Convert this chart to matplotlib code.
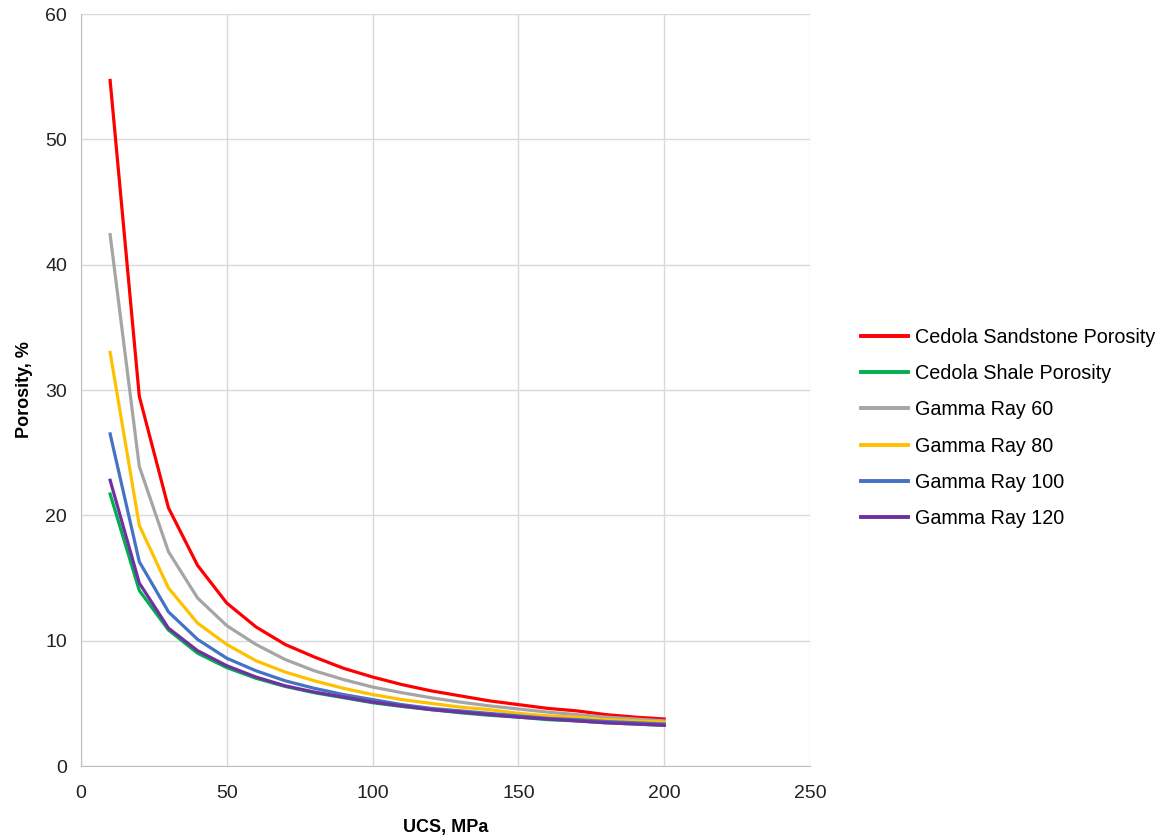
import matplotlib.pyplot as plt

plt.rcParams['font.family'] = ['Liberation Sans', 'DejaVu Sans']

# UCS steps and porosity curves
ucs = [10, 20, 30, 40, 50, 60, 70, 80, 90, 100,
       110, 120, 130, 140, 150, 160, 170, 180, 190, 200]

sandstone = [54.7, 29.5, 20.6, 16.0, 13.0, 11.1, 9.7, 8.7, 7.8, 7.1,
             6.5, 6.0, 5.6, 5.2, 4.9, 4.6, 4.4, 4.1, 3.9, 3.75]
shale = [21.7, 14.0, 10.85, 9.0, 7.85, 7.0, 6.35, 5.85, 5.45, 5.05,
         4.75, 4.5, 4.25, 4.05, 3.9, 3.7, 3.6, 3.45, 3.35, 3.25]
gr60 = [42.4, 23.9, 17.1, 13.4, 11.2, 9.7, 8.5, 7.6, 6.9, 6.3,
        5.85, 5.45, 5.1, 4.8, 4.55, 4.3, 4.1, 3.9, 3.75, 3.6]
gr80 = [33.0, 19.2, 14.2, 11.4, 9.7, 8.4, 7.5, 6.8, 6.2, 5.7,
        5.3, 5.0, 4.7, 4.5, 4.2, 4.0, 3.9, 3.7, 3.6, 3.5]
gr100 = [26.5, 16.3, 12.3, 10.1, 8.6, 7.6, 6.8, 6.2, 5.7, 5.3,
         4.9, 4.6, 4.4, 4.2, 4.0, 3.8, 3.7, 3.55, 3.45, 3.35]
gr120 = [22.8, 14.6, 11.0, 9.2, 8.0, 7.1, 6.4, 5.9, 5.5, 5.1,
         4.8, 4.5, 4.3, 4.1, 3.9, 3.75, 3.6, 3.45, 3.35, 3.25]

series = [
    ('Cedola Sandstone Porosity', sandstone, '#FF0000'),
    ('Cedola Shale Porosity', shale, '#00B050'),
    ('Gamma Ray 60', gr60, '#A5A5A5'),
    ('Gamma Ray 80', gr80, '#FFC000'),
    ('Gamma Ray 100', gr100, '#4472C4'),
    ('Gamma Ray 120', gr120, '#7030A0'),
]

fig = plt.figure(figsize=(11.7, 8.39), dpi=100)
ax = fig.add_axes([0.0692, 0.087, 0.6231, 0.8963])

for name, vals, col in series:
    ax.plot(ucs, vals, color=col, linewidth=2.3, label=name)

ax.set_xlim(0, 250)
ax.set_ylim(0, 60)
ax.set_xticks(range(0, 251, 50))
ax.set_yticks(range(0, 61, 10))
ax.grid(True, color='#d9d9d9', linewidth=1)
ax.set_axisbelow(True)
for s in ['top', 'right']:
    ax.spines[s].set_visible(False)
for s in ['left', 'bottom']:
    ax.spines[s].set_color('#bfbfbf')
ax.tick_params(length=0, labelsize=14, colors='#222222')
ax.tick_params(axis='x', pad=14)
ax.tick_params(axis='y', pad=10)

ax.set_xlabel('UCS, MPa', fontsize=13, fontweight='bold', labelpad=12)
ax.set_ylabel('Porosity, %', fontsize=13, fontweight='bold', labelpad=9)

leg = fig.legend(loc='upper left', bbox_to_anchor=(0.729, 0.619), frameon=False,
                 fontsize=14.2, handlelength=2.4, handletextpad=0.35,
                 labelspacing=0.88, borderaxespad=0)
for h in leg.get_lines():
    h.set_linewidth(2.8)

fig.savefig('out.png', dpi=100)
